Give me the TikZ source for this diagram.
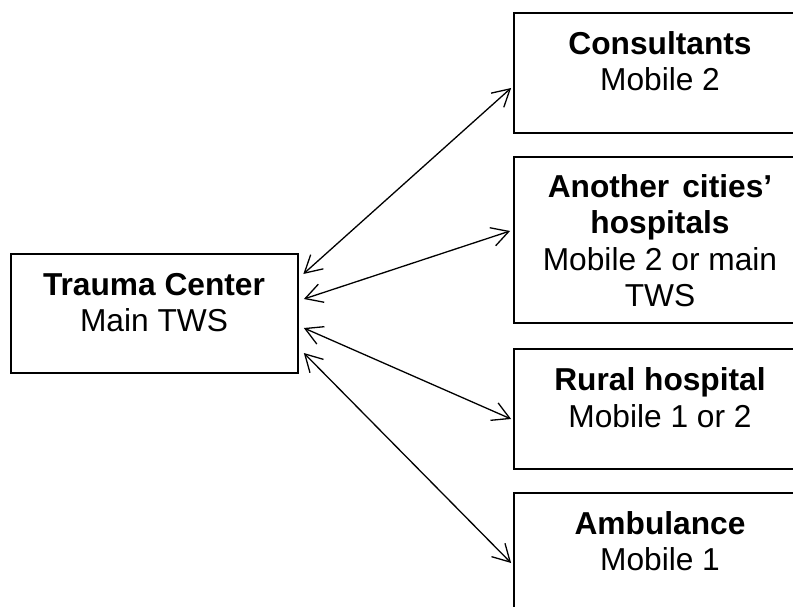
\documentclass[tikz,border=0pt]{standalone}
\usepackage{fontspec}
\setmainfont{Liberation Sans}
\usetikzlibrary{arrows.meta,calc}
\begin{document}
\begin{tikzpicture}[x=1pt,y=-1pt,
  box/.style={draw=black,line width=1.8pt,rectangle,inner sep=0pt,fill=none},
  lbl/.style={inner sep=0pt,anchor=base,font=\fontsize{31.7pt}{37pt}\selectfont},
  link/.style={line width=1.3pt,{Straight Barb[length=17pt,width=19pt,line width=1.3pt]}-{Straight Barb[length=17pt,width=19pt,line width=1.3pt]}}]
\useasboundingbox (0,0) rectangle (793,607);
\fill[white] (0,0) rectangle (793,607);
% boxes
\node[box,minimum width=286.7pt,minimum height=118.4pt] (tc) at (154.3,313.5) {};
\node[box,minimum width=292pt,minimum height=120.3pt] (cons) at (660,72.85) {};
\node[box,minimum width=292pt,minimum height=166pt] (anc) at (660,240) {};
\node[box,minimum width=292pt,minimum height=119.7pt] (rur) at (660,409.15) {};
\node[box,minimum width=292pt,minimum height=120pt] (amb) at (660,553.3) {};
% texts
\node[lbl] (tc1) at (154,295) {\bfseries Trauma Center};
\node[lbl] (tc2) at (154,331.7) {Main TWS};
\node[lbl] (cons1) at (660,54.2) {\bfseries Consultants};
\node[lbl] (cons2) at (660,90.9) {Mobile 2};
\node[lbl] (anc1) at (660,197) {\bfseries Another\hspace{13pt}cities’};
\node[lbl] (anc2) at (660,233.5) {\bfseries hospitals};
\node[lbl] (anc3) at (660,270) {Mobile 2 or main};
\node[lbl] (anc4) at (660,306.5) {TWS};
\node[lbl] (rur1) at (660,390.7) {\bfseries Rural hospital};
\node[lbl] (rur2) at (660,427.3) {Mobile 1 or 2};
\node[lbl] (amb1) at (660,534) {\bfseries Ambulance};
\node[lbl] (amb2) at (660,570.7) {Mobile 1};
% connectors
\draw[link] ($(tc.east)+(4.8,-39.5)$) -- ($(cons.west)+(-2,15.15)$);
\draw[link] ($(tc.east)+(5.3,-14.5)$) -- ($(anc.west)+(-3,-9)$);
\draw[link] ($(tc.east)+(5.3,14.5)$) -- ($(rur.west)+(-2,9.85)$);
\draw[link] ($(tc.east)+(5.3,39.5)$) -- ($(amb.west)+(-2,9.7)$);
\end{tikzpicture}
\end{document}
